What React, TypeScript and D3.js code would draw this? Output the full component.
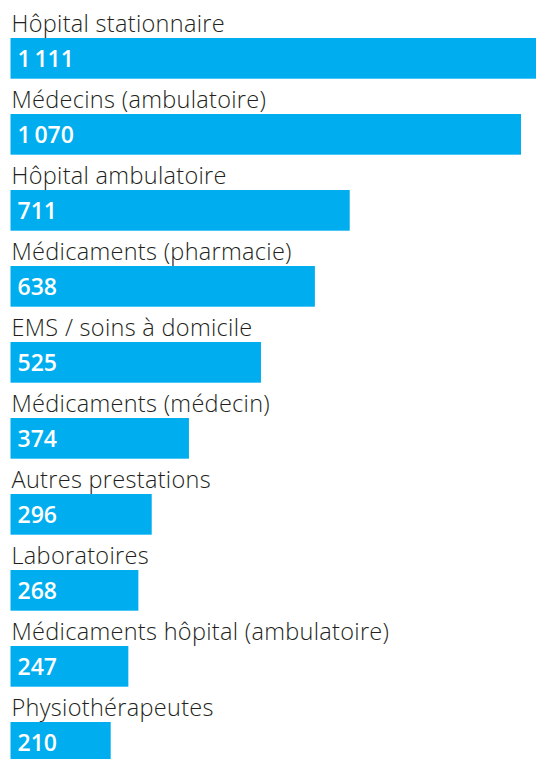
import React from "react";
import * as d3 from "d3";

const categories = [
  "Hôpital stationnaire",
  "Médecins (ambulatoire)",
  "Hôpital ambulatoire",
  "Médicaments (pharmacie)",
  "EMS / soins à domicile",
  "Médicaments (médecin)",
  "Autres prestations",
  "Laboratoires",
  "Médicaments hôpital (ambulatoire)",
  "Physiothérapeutes",
];
const values = [1111, 1070, 711, 638, 525, 374, 296, 268, 247, 210];

const W = 536;
const H = 759;
const left = 10.5;
const firstBarTop = 38;
const step = 76;
const barH = 40.7;

const fmt = d3.formatLocale({
  decimal: ",",
  thousands: "\u2009",
  grouping: [3],
  currency: ["", " CHF"],
}).format(",d");

export default function App() {
  const x = d3.scaleLinear().domain([0, 1070]).range([left, 521]);
  const y = d3
    .scaleLinear()
    .domain([0, 1])
    .range([firstBarTop, firstBarTop + step]);
  return (
    <svg
      width={W}
      height={H}
      style={{ position: "absolute", left: 0, top: 0, display: "block" }}
      fontFamily="'Open Sans', sans-serif"
    >
      {categories.map((c, i) => {
        const top = y(i);
        return (
          <g key={c}>
            <text
              x={11.5}
              y={top - 6.5}
              fontSize={23.5}
              fontWeight={300}
              letterSpacing={0.3}
              fill="#231f20"
            >
              {c}
            </text>
            <rect
              x={left}
              y={top}
              width={x(values[i]) - left}
              height={barH}
              fill="#00aeef"
            />
            <text
              x={17.5}
              y={top + 28.5}
              fontSize={23}
              fontWeight={600}
              fill="#ffffff"
            >
              {fmt(values[i])}
            </text>
          </g>
        );
      })}
    </svg>
  );
}
